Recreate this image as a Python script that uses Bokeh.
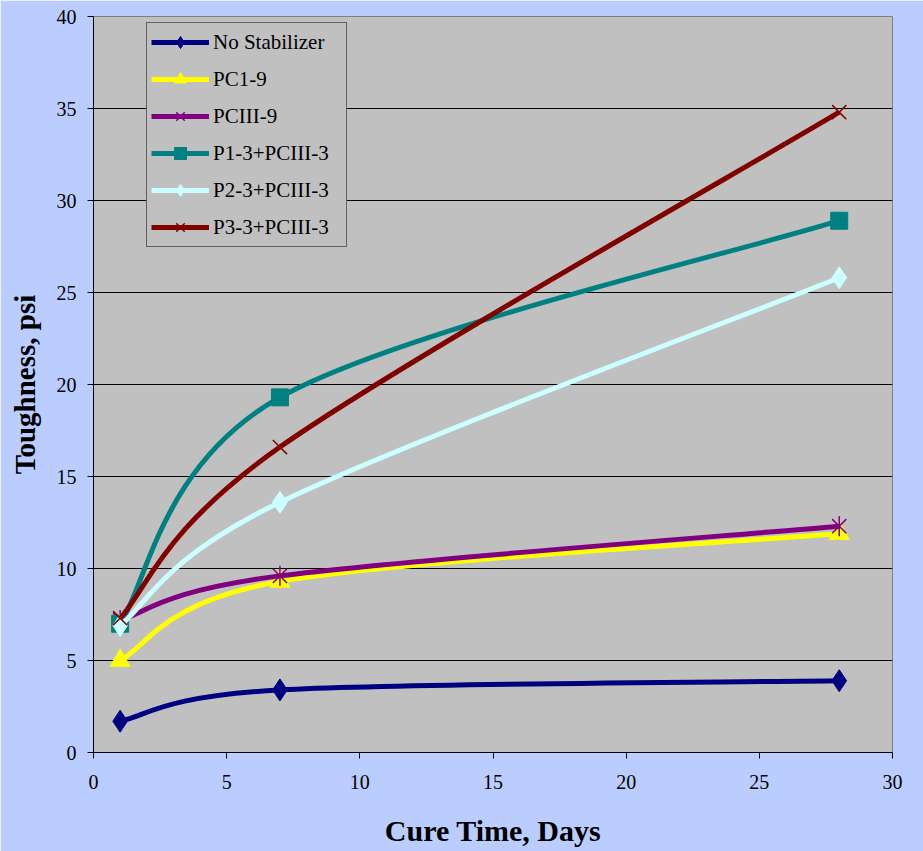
import numpy as np
from bokeh.plotting import figure
from bokeh.models import Legend, LegendItem, SingleIntervalTicker, ColumnDataSource
from bokeh.embed import file_html
from bokeh.resources import INLINE

days = [1, 7, 28]
series_names = ["No Stabilizer", "PC1-9", "PCIII-9", "P1-3+PCIII-3", "P2-3+PCIII-3", "P3-3+PCIII-3"]
no_stabilizer = [1.7, 3.4, 3.9]
pc1_9 = [5.0, 9.3, 11.9]
pciii_9 = [7.2, 9.6, 12.3]
p1_3 = [7.0, 19.3, 28.9]
p2_3 = [6.9, 13.6, 25.8]
p3_3 = [7.3, 16.6, 34.8]
series_values = [no_stabilizer, pc1_9, pciii_9, p1_3, p2_3, p3_3]
colors = ["#000080", "#FFFF00", "#800080", "#008080", "#CCFFFF", "#800000"]
markers = ["diamond", "triangle", "star6", "square", "diamond", "x"]

BG = "#BBCCFF"
FONT = "'Liberation Serif', serif"

p = figure(frame_width=799, frame_height=736, x_range=(0, 30), y_range=(0, 40),
           output_backend="svg", toolbar_location=None,
           background_fill_color="#C0C0C0", border_fill_color=BG,
           min_border_left=93, min_border_right=31, min_border_top=16, min_border_bottom=99)
p.outline_line_color = "#808080"
p.outline_line_width = 1

p.xgrid.grid_line_color = None
p.ygrid.grid_line_color = "black"
p.ygrid.grid_line_width = 1

for ax in (p.xaxis[0], p.yaxis[0]):
    ax.ticker = SingleIntervalTicker(interval=5)
    ax.axis_line_color = "black"
    ax.axis_line_width = 1
    ax.major_tick_in = 0
    ax.major_tick_out = 6
    ax.major_tick_line_color = "black"
    ax.minor_tick_line_color = None
    ax.major_label_text_font = FONT
    ax.major_label_text_font_size = "20px"
    ax.major_label_text_color = "black"
    ax.axis_label_text_font = FONT
    ax.axis_label_text_font_style = "bold"
    ax.axis_label_text_color = "black"

p.xaxis.axis_label = "Cure Time, Days"
p.yaxis.axis_label = "Toughness, psi"
p.xaxis.axis_label_text_font_size = "30px"
p.yaxis.axis_label_text_font_size = "29px"
p.xaxis.major_label_standoff = 16
p.xaxis.axis_label_standoff = 22
p.yaxis.major_label_standoff = 11
p.yaxis.axis_label_standoff = 13


def smooth_controls(xs, ys):
    """Excel-like smoothing: cubic Bezier control points per segment."""
    xs = np.asarray(xs, float)
    ys = np.asarray(ys, float)
    n = len(xs)
    out = dict(x0=[], y0=[], x1=[], y1=[], cx0=[], cy0=[], cx1=[], cy1=[])
    for i in range(n - 1):
        ip = max(i - 1, 0)
        inn = min(i + 2, n - 1)
        out["x0"].append(xs[i]); out["y0"].append(ys[i])
        out["x1"].append(xs[i + 1]); out["y1"].append(ys[i + 1])
        out["cx0"].append(xs[i] + (xs[i + 1] - xs[ip]) / 6)
        out["cy0"].append(ys[i] + (ys[i + 1] - ys[ip]) / 6)
        out["cx1"].append(xs[i + 1] - (xs[inn] - xs[i]) / 6)
        out["cy1"].append(ys[i + 1] - (ys[inn] - ys[i]) / 6)
    return ColumnDataSource(out)


items = []
for name, vals, col, mk in zip(series_names, series_values, colors, markers):
    src = smooth_controls(days, vals)
    r_line = p.bezier(x0="x0", y0="y0", x1="x1", y1="y1", cx0="cx0", cy0="cy0",
                      cx1="cx1", cy1="cy1", source=src, line_color=col, line_width=5)
    rs = [r_line]
    if mk == "diamond":
        rs.append(p.scatter(days, vals, marker="diamond", size=22, fill_color=col, line_color=col))
    elif mk == "triangle":
        rs.append(p.scatter(days, vals, marker="triangle", size=20, fill_color=col, line_color=col))
    elif mk == "square":
        rs.append(p.scatter(days, vals, marker="square", size=17, fill_color=col, line_color=col))
    elif mk == "x":
        rs.append(p.scatter(days, vals, marker="x", size=20, line_color=col, line_width=1.5))
    else:
        rs.append(p.scatter(days, vals, marker="x", size=20, line_color=col, line_width=1.5))
        rs.append(p.scatter(days, vals, marker="dash", size=20, angle=np.pi / 2,
                            line_color=col, line_width=1.5))
    items.append(LegendItem(label=name, renderers=rs))

legend = Legend(items=items, location=(53, 505))
legend.label_text_font = FONT
legend.label_text_font_size = "21px"
legend.label_text_color = "black"
legend.glyph_width = 58
legend.glyph_height = 30
legend.label_height = 30
legend.label_width = 129
legend.label_standoff = 4
legend.spacing = 7
legend.padding = 4
legend.margin = 0
legend.background_fill_color = "#C0C0C0"
legend.background_fill_alpha = 1
legend.border_line_color = "black"
legend.border_line_width = 1
p.add_layout(legend, "center")

html = file_html(p, INLINE)
html = html.replace("<body>", '<body style="background-color:%s;">' % BG, 1)
open("out.html", "w").write(html)
